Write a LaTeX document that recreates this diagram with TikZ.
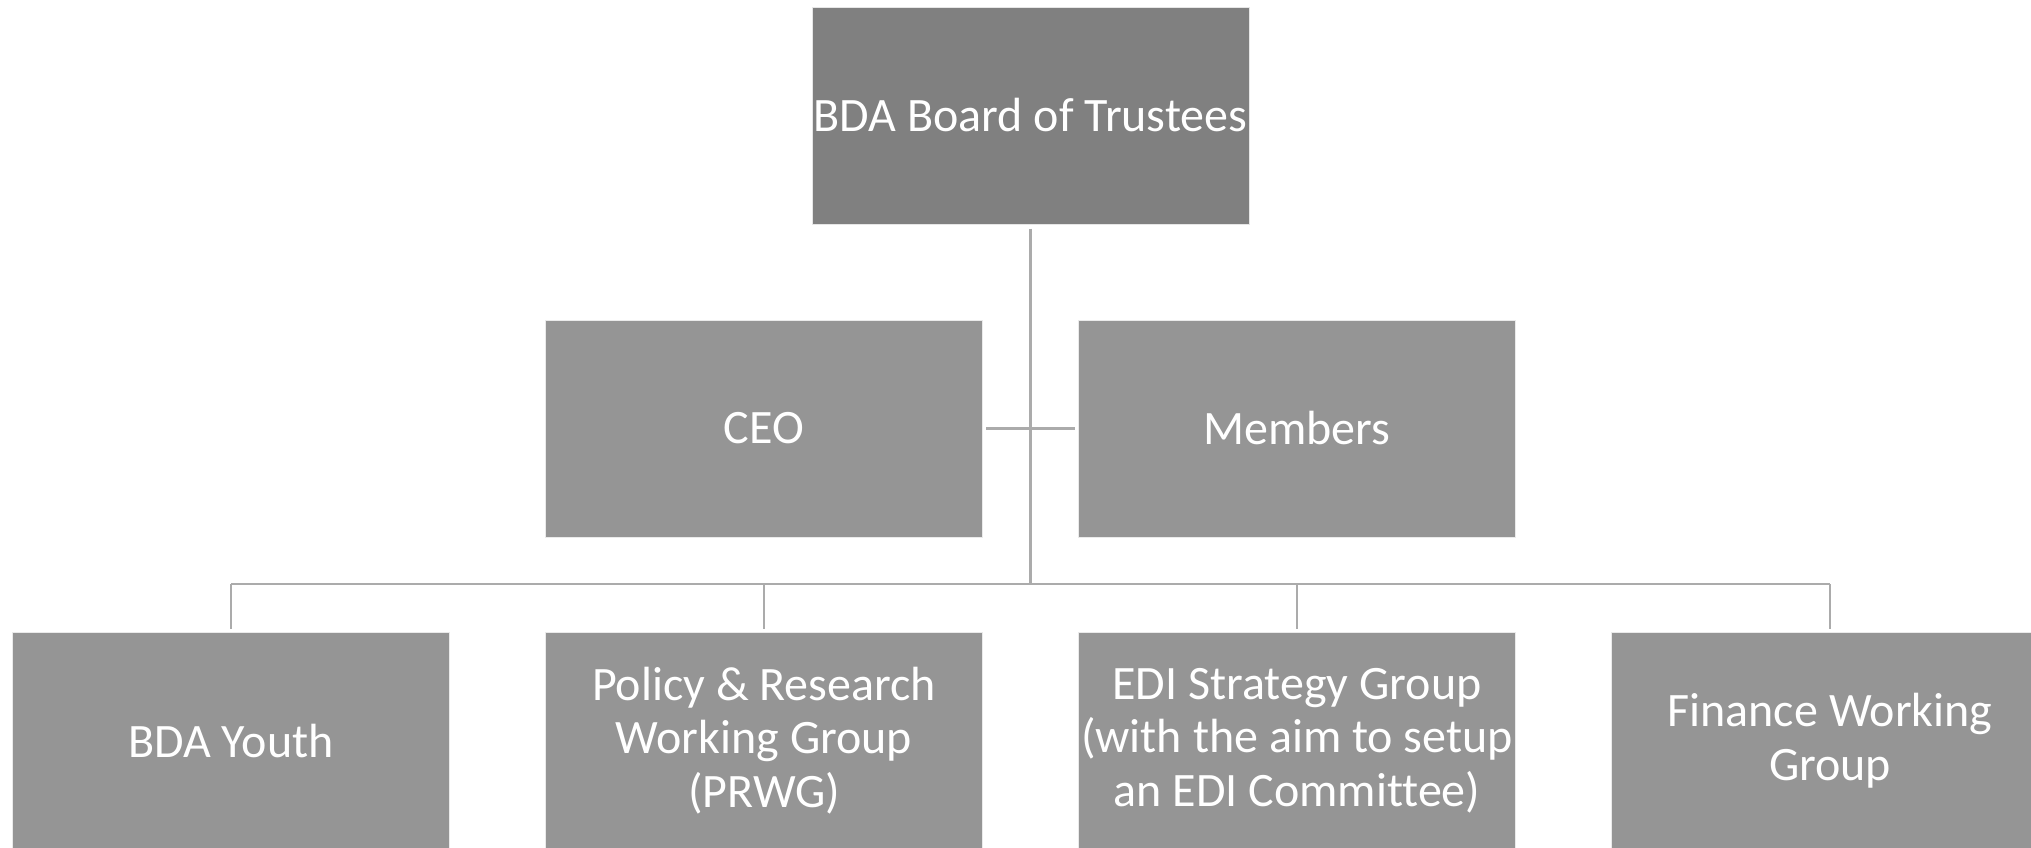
\documentclass[tikz,border=0pt]{standalone}
\usepackage{fontspec}
\setmainfont[Ligatures=NoCommon]{Carlito}
\definecolor{topfill}{HTML}{808080}
\definecolor{boxfill}{HTML}{959595}
\definecolor{linec}{HTML}{ABABAB}
\begin{document}
\begin{tikzpicture}[x=1pt,y=-1pt,
  orgbox/.style={rectangle, fill=boxfill, draw=white!80!boxfill, line width=1pt,
    minimum width=437pt, minimum height=217pt, inner sep=1pt, text=white,
    align=center, font=\fontsize{48}{53.5}\selectfont},
  topbox/.style={orgbox, fill=topfill, draw=white!80!topfill},
  lowbox/.style={orgbox},
  conn/.style={draw=linec, line width=2.2pt}]
\useasboundingbox (0,0) rectangle (2031,847);
\fill[white] (0,0) rectangle (2031,847);
\node[topbox] (top) at (1030.5,115.5) {BDA Board of Trustees};
\node[orgbox] (ceo) at (764,428.5) {CEO};
\node[orgbox] (mem) at (1297,428.5) {Members};
\node[lowbox] (youth) at (231,740.5) {BDA Youth};
\node[lowbox] (prwg) at (764,740.5) {Policy \& Research\\Working Group\\(PRWG)};
\node[lowbox] (edi) at (1297,740.5) {EDI Strategy Group\\(with the aim to setup\\an EDI Committee)};
\node[lowbox] (fin) at (1830,740.5) {Finance Working\\Group};
\coordinate (bus) at (1030,584);
\draw[conn, shorten <=4pt] (top.south) -- (top.south |- bus);
\draw[conn] (youth.north |- bus) -- (fin.north |- bus);
\foreach \n in {youth,prwg,edi,fin}
  \draw[conn, shorten >=3pt] (\n.north |- bus) -- (\n.north);
\draw[conn, shorten <=3pt, shorten >=3pt] (ceo.east) -- (mem.west);
\end{tikzpicture}
\end{document}
